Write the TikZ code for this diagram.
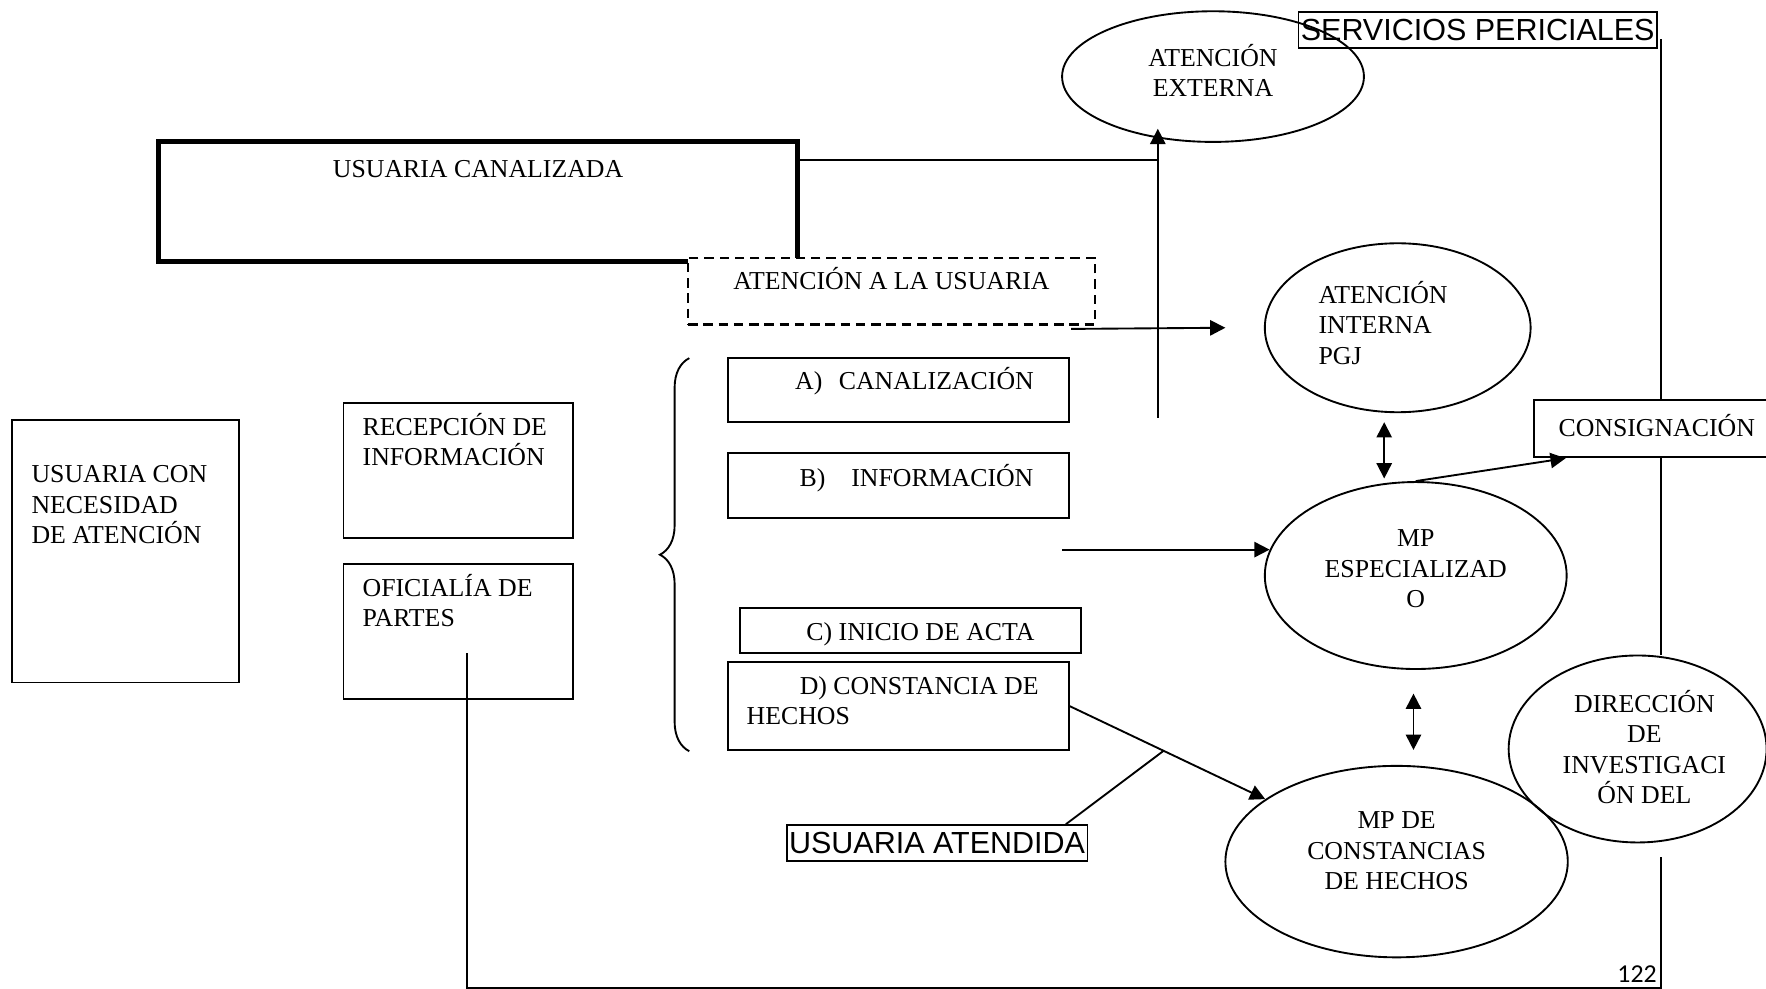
\documentclass[tikz,border=0pt]{standalone}
\usepackage{fontspec}
\setmainfont{Liberation Serif}
\setsansfont{Liberation Sans}
\newfontfamily\pagina{Carlito}
\usepackage{tikz}
\usetikzlibrary{arrows.meta,positioning,shapes.geometric,decorations.pathreplacing}
\newcommand{\unidad}{0.48pt}
\newcommand{\tnr}{\fontsize{11}{13}\selectfont}
\newcommand{\arial}{\sffamily\fontsize{13}{15}\selectfont}

\begin{document}
\begin{tikzpicture}[x=\unidad,y=-\unidad,>={Triangle[length=6.5pt,width=6.5pt]},line width=0.8pt,font=\tnr]
\useasboundingbox (0,0) rectangle (1568,878);
\tikzset{caja/.style={draw,rectangle,inner sep=0pt}}
\tikzset{texto/.style={inner sep=0pt,align=left,anchor=base west}}
\tikzset{elipse/.style={draw,ellipse,inner sep=0pt}}
\tikzset{centro/.style={inner sep=0pt,align=center}}
\tikzset{titulo/.style={draw,rectangle,inner xsep=1pt,inner ysep=3pt,font=\arial}}

% cajas de la izquierda
\node[caja,minimum width=201*\unidad,minimum height=233*\unidad] (Necesidad) at (111.5,489.5) {};
\node[caja,minimum width=204*\unidad,minimum height=120*\unidad] (Recepcion) at (407,418) {};
\node[caja,minimum width=204*\unidad,minimum height=120*\unidad] (Oficialia) at (407,561) {};
\node[texto] (NecesidadT) at ([shift={(17,110.5)}]Necesidad.north west) {USUARIA CON\\NECESIDAD\\DE ATENCIÓN};
\node[texto] (RecepcionT) at ([shift={(17,56.5)}]Recepcion.north west) {RECEPCIÓN DE\\INFORMACIÓN};
\node[texto] (OficialiaT) at ([shift={(17,56.5)}]Oficialia.north west) {OFICIALÍA DE\\PARTES};

% usuaria canalizada / atencion
\node[caja,line width=2.2pt,minimum width=567*\unidad,minimum height=106*\unidad] (Canalizada) at (424.5,179) {};
\node[texto,anchor=base] (CanalizadaT) at ([shift={(0,33.5)}]Canalizada.north) {USUARIA CANALIZADA};
\node[caja,fill=white,line width=1pt,dash pattern=on 4pt off 2.5pt,minimum width=361*\unidad,minimum height=59*\unidad] (AtencionUsuaria) at (791.5,258.5) {};
\node[texto,anchor=base] (AtencionUsuariaT) at ([shift={(0,29.5)}]AtencionUsuaria.north) {ATENCIÓN A LA USUARIA};

% opciones A) a D)
\node[caja,minimum width=303*\unidad,minimum height=57*\unidad] (Canalizacion) at (797.5,346.5) {};
\node[caja,minimum width=303*\unidad,minimum height=58*\unidad] (Informacion) at (797.5,431) {};
\node[caja,minimum width=303*\unidad,minimum height=40*\unidad] (InicioActa) at (808.5,560) {};
\node[caja,minimum width=303*\unidad,minimum height=78*\unidad] (ConstanciaHechos) at (797.5,627) {};
\node[texto] (CanalizacionT) at ([shift={(60,29)}]Canalizacion.north west) {A)\hspace{7pt}CANALIZACIÓN};
\node[texto] (InformacionT) at ([shift={(64,30.5)}]Informacion.north west) {B)\hspace{11pt}INFORMACIÓN};
\node[texto] (InicioActaT) at ([shift={(59,29.5)}]InicioActa.north west) {C) INICIO DE ACTA};
\node[texto] (ConstanciaHechosT) at ([shift={(17,56.5)}]ConstanciaHechos.north west) {\hspace*{22.6pt}D) CONSTANCIA DE\\HECHOS};
\draw[decorate,decoration={brace,amplitude=12.5pt}] (612,667) -- (612,318);

% elipses
\node[elipse,minimum width=268*\unidad,minimum height=116*\unidad] (Externa) at (1077,68) {};
\node[elipse,minimum width=236*\unidad,minimum height=150*\unidad] (Interna) at (1241,291) {};
\node[elipse,minimum width=268*\unidad,minimum height=166*\unidad] (Especializado) at (1257,511) {};
\node[elipse,minimum width=304*\unidad,minimum height=170*\unidad] (Constancias) at (1240,765) {};
\node[elipse,minimum width=229*\unidad,minimum height=166*\unidad] (Direccion) at (1454,665) {};
\node[centro] (ExternaT) at ([shift={(0,-5.5)}]Externa.center) {ATENCIÓN\\EXTERNA};
\node[centro,align=left] (InternaT) at ([shift={(-13,-4.5)}]Interna.center) {ATENCIÓN\\INTERNA\\PGJ};
\node[centro] (EspecializadoT) at ([shift={(0,-6)}]Especializado.center) {MP\\ESPECIALIZAD\\O};
\node[centro] (ConstanciasT) at ([shift={(0,-9.5)}]Constancias.center) {MP DE\\CONSTANCIAS\\DE HECHOS};
\node[centro] (DireccionT) at ([shift={(6,-1.5)}]Direccion.center) {DIRECCIÓN\\DE\\INVESTIGACI\\ÓN DEL};

% cajas de la derecha
\node[caja,minimum width=218*\unidad,minimum height=51*\unidad] (Consignacion) at (1471,380.5) {};
\node[centro] (ConsignacionT) at ([shift={(0,-2.5)}]Consignacion.center) {CONSIGNACIÓN};
\node[titulo] (Servicios) at (1312,26.5) {SERVICIOS PERICIALES};
\node[titulo] (Atendida) at (832,748.5) {USUARIA ATENDIDA};
\node[font=\pagina\fontsize{11}{13}\selectfont,anchor=base,inner sep=0pt] (Pagina) at (1453.5,872) {122};

% conectores
\coordinate (ExtJoin) at (1028,142);
\coordinate (ExtBase) at (1028,371);
\coordinate (IntTip) at (1088,291);
\coordinate (InfoOut) at (943,488);
\coordinate (LoopCorner) at (1475,877);
\coordinate (PeritoTop) at (1475,35);
\tikzset{flecha/.style={->}}
\path (Canalizada.east |- ExtJoin) edge (ExtJoin)
      (ExtBase) edge[flecha,shorten >=-6pt] (ExtBase |- Externa.south)
      ([shift={(-22,3)}]AtencionUsuaria.south east) edge[flecha] (IntTip)
      (InfoOut) edge[flecha] (InfoOut -| Especializado.170)
      (Especializado.north) edge[flecha] ([shift={(29,0)}]Consignacion.south west);
\tikzset{flecha/.style={<->}}
\draw[flecha] ([shift={(-12,8)}]Interna.south) -- ++(0,50);
\draw[flecha] ([shift={(-2,21)}]Especializado.south) -- ++(0,50);
\draw[->] (ConstanciaHechos.east) -- coordinate[pos=0.48] (AtendidaJoin) (Constancias);
\draw ([shift={(-20,0)}]Atendida.north east) -- (AtendidaJoin);
\draw[shorten >=5.8pt] ([shift={(8,19)}]Oficialia.center) |- (LoopCorner) -- (LoopCorner |- Direccion.south);
\draw (Consignacion.south -| LoopCorner) -- (LoopCorner |- Direccion.north);
\draw (PeritoTop) -- (PeritoTop |- Consignacion.north);
\end{tikzpicture}
\end{document}
